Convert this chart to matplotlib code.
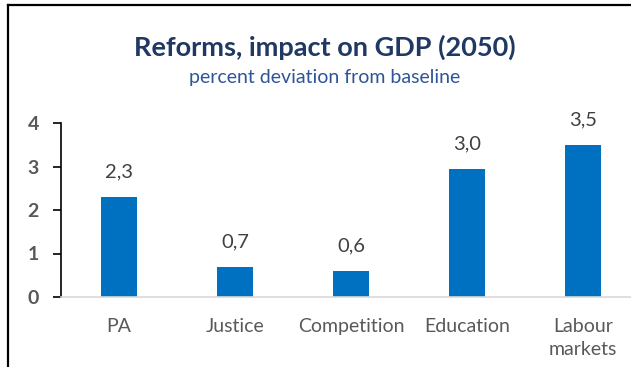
import matplotlib.pyplot as plt
from matplotlib.lines import Line2D
import numpy as np

# data
categories = ['PA', 'Justice', 'Competition', 'Education', 'Labour\nmarkets']
impact = [2.3, 0.7, 0.6, 2.95, 3.5]
labels = ['2,3', '0,7', '0,6', '3,0', '3,5']
yticks = [0, 1, 2, 3, 4]

plt.rcParams['font.family'] = ['Lato', 'DejaVu Sans']

fig = plt.figure(figsize=(6.31, 3.67), dpi=100)
ax = fig.add_axes([61 / 631, 1 - 297 / 367, 580 / 631, 174 / 367])

x = np.arange(len(categories))
ax.bar(x, impact, width=0.31, color='#0070C0', zorder=2)

for xi, v, lab in zip(x, impact, labels):
    ax.text(xi, v + 0.37, lab, ha='center', va='bottom', fontsize=14.5, color='#404040')

ax.set_xlim(-0.5, len(categories) - 0.5)
ax.set_ylim(0, 4)
ax.set_yticks(yticks)
ax.set_yticklabels([str(t) for t in yticks], fontsize=14, fontweight='bold', color='#595959')
ax.set_xticks(x)
ax.set_xticklabels(categories, fontsize=14, color='#595959', linespacing=1.45)
ax.tick_params(axis='x', length=0, pad=15)
ax.tick_params(axis='y', length=6, width=1.2, direction='out', pad=10)

for s in ['top', 'right']:
    ax.spines[s].set_visible(False)
ax.spines['left'].set_color('black')
ax.spines['left'].set_linewidth(1.2)
ax.spines['bottom'].set_color('#D9D9D9')
ax.spines['bottom'].set_linewidth(1.2)

fig.text(0.515, 1 - 47 / 367, 'Reforms, impact on GDP (2050)', ha='center', va='center',
         fontsize=19.5, fontweight='bold', color='#1F3864')
fig.text(0.515, 1 - 77 / 367, 'percent deviation from baseline', ha='center', va='center',
         fontsize=14, color='#2E5597')

# outer frame (left and top edges)
fig.add_artist(Line2D([8 / 631, 8 / 631], [0, 1 - 5 / 367], color='black', lw=1.6,
                      transform=fig.transFigure))
fig.add_artist(Line2D([8 / 631, 1], [1 - 5 / 367, 1 - 5 / 367], color='black', lw=1.6,
                      transform=fig.transFigure))

fig.savefig('out.png', dpi=100)
